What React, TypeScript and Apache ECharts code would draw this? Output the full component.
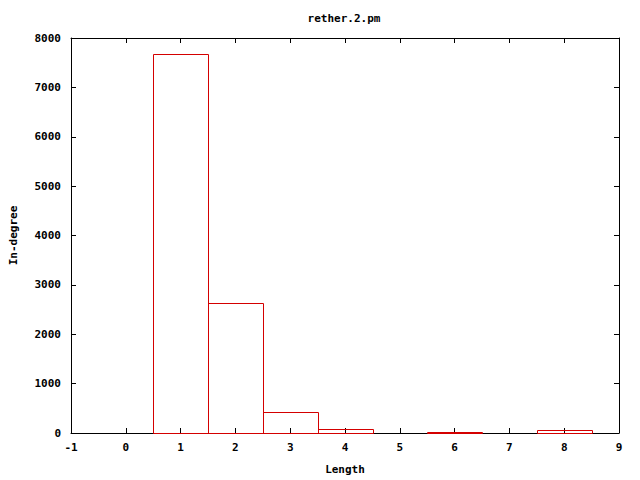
import React, { useEffect, useRef } from "react";
import * as echarts from "echarts";

const titleText = "rether.2.pm";
const xLabel = "Length";
const yLabel = "In-degree";
const lengths = [1, 2, 3, 4, 6, 8];
const counts = [7680, 2625, 420, 80, 15, 55];

const FONT = "'DejaVu Sans Mono', 'Liberation Mono', monospace";

export default function App() {
  const ref = useRef<HTMLDivElement>(null);
  useEffect(() => {
    if (!ref.current) return;
    const chart = echarts.init(ref.current, null, { renderer: "svg" });
    const data = lengths.map((l, i) => [l, counts[i]]);
    const labelStyle = { color: "#000", fontFamily: FONT, fontWeight: "bold" as const, fontSize: 11 };
    const baseX = {
      type: "value" as const,
      min: -1,
      max: 9,
      interval: 1,
      splitLine: { show: false },
      axisLine: { show: true, onZero: false, lineStyle: { color: "#000", width: 1 } },
      axisTick: { show: true, inside: true, length: 5, lineStyle: { color: "#000" } },
    };
    const baseY = {
      type: "value" as const,
      min: 0,
      max: 8000,
      interval: 1000,
      splitLine: { show: false },
      axisLine: { show: true, onZero: false, lineStyle: { color: "#000", width: 1 } },
      axisTick: { show: true, inside: true, length: 5, lineStyle: { color: "#000" } },
    };
    chart.setOption({
      animation: false,
      backgroundColor: "#fff",
      title: {
        text: titleText,
        left: 344,
        top: 13,
        padding: 0,
        textAlign: "center",
        textStyle: { ...labelStyle, fontSize: 11 },
      },
      grid: { left: 69, right: 21, top: 38, bottom: 40 },
      xAxis: [
        {
          ...baseX,
          position: "bottom",
          name: xLabel,
          nameLocation: "middle",
          nameGap: 31,
          nameTextStyle: labelStyle,
          axisLabel: { ...labelStyle, margin: 9 },
        },
        { ...baseX, position: "top", axisLabel: { show: false } },
      ],
      yAxis: [
        {
          ...baseY,
          position: "left",
          name: yLabel,
          nameLocation: "middle",
          nameGap: 52,
          nameTextStyle: labelStyle,
          axisLabel: { ...labelStyle, margin: 10, formatter: (v: number) => String(v) },
        },
        { ...baseY, position: "right", axisLabel: { show: false } },
      ],
      series: [
        {
          type: "custom",
          xAxisIndex: 0,
          yAxisIndex: 0,
          data,
          renderItem: (params: any, api: any) => {
            const x = api.value(0);
            const y = api.value(1);
            const p1 = api.coord([x - 0.5, y]);
            const p2 = api.coord([x + 0.5, 0]);
            return {
              type: "rect",
              shape: {
                x: Math.round(p1[0]) + 0.5,
                y: Math.round(p1[1]) + 0.5,
                width: Math.round(p2[0] - p1[0]),
                height: Math.round(p2[1] - p1[1]),
              },
              style: { fill: "none", stroke: "#d40000", lineWidth: 1 },
            };
          },
        },
      ],
    });
    return () => chart.dispose();
  }, []);
  return <div ref={ref} style={{ width: 640, height: 480, position: "absolute", left: 0, top: 0 }} />;
}
